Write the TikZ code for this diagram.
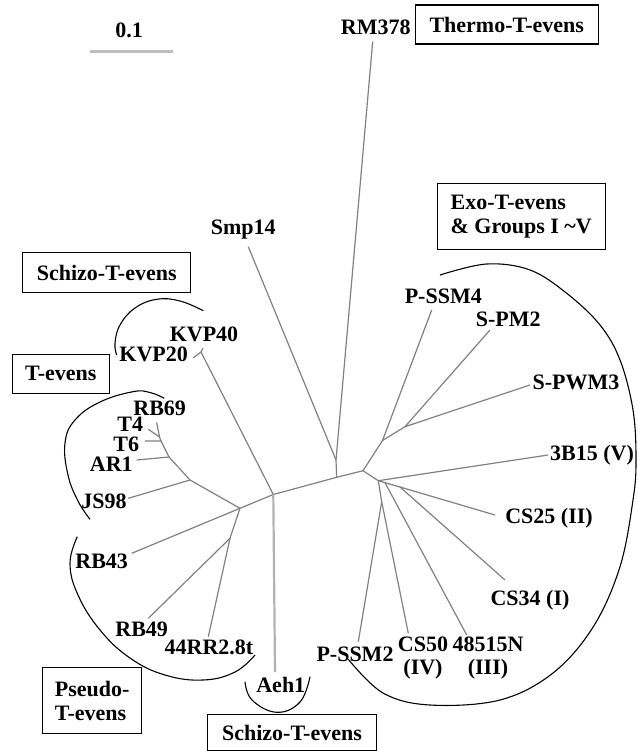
\documentclass[tikz,border=0pt]{standalone}
\usepackage{fontspec}
\setmainfont{Liberation Serif}
\begin{document}
\begin{tikzpicture}[x=1pt,y=-1pt,
  lbl/.style={font=\bfseries\fontsize{22}{23}\selectfont, inner sep=0pt},
  boxlbl/.style={draw=black, line width=1.1pt, font=\bfseries\fontsize{22}{24}\selectfont, inner sep=0pt, align=center},
  br/.style={draw=black!50, line width=1.2pt},
  arcline/.style={draw=black, line width=1.1pt}]
\useasboundingbox (0,0) rectangle (637,751);
% scale bar
\node[lbl] (scl) at (129,30) {0.1};
\coordinate (sb1) at (90,51.7); \coordinate (sb2) at (173.3,51.7);
\draw[black!25, line width=2.8pt] (sb1) -- (sb2);
% tree coordinates
\coordinate (A) at (273.3,494.5);
\coordinate (I) at (240,508.3);
\coordinate (B) at (336.7,477.3);
\coordinate (N) at (336,460);
\coordinate (C) at (363,470.7);
\coordinate (D) at (382.5,440.5);
\coordinate (E) at (405,426.7);
\coordinate (F) at (378.3,480.7);
\coordinate (H1) at (385,482.7);
\coordinate (H2) at (400,487);
\coordinate (G) at (381.7,501.7);
\coordinate (P) at (201,352);
\coordinate (K) at (190,480);
\coordinate (L) at (169,457);
\coordinate (M) at (161,441);
\coordinate (Q) at (159.5,437);
\coordinate (J) at (230,538.3);
% tips
\coordinate (tRM) at (372.7,41.7);
\coordinate (tSmp) at (248.3,246.7);
\coordinate (tKVP40) at (203,348);
\coordinate (tKVP20) at (193,358);
\coordinate (tRB69) at (156.7,422.7);
\coordinate (tT4) at (148.3,429.3);
\coordinate (tT6) at (145,441);
\coordinate (tAR1) at (136.7,460);
\coordinate (tJS98) at (128.3,498.3);
\coordinate (tRB43) at (131.7,553.3);
\coordinate (tRB49) at (148.3,618.3);
\coordinate (t44) at (208.3,636.7);
\coordinate (tAeh) at (275,672);
\coordinate (tPSSM4) at (431.7,310);
\coordinate (tSPM2) at (490,330);
\coordinate (tSPWM3) at (530,385);
\coordinate (t3B15) at (548,455);
\coordinate (tCS25) at (495,515);
\coordinate (tCS34) at (505,580);
\coordinate (t485) at (466.7,635);
\coordinate (tCS50) at (408.3,633.3);
\coordinate (tPSSM2) at (358.3,641.7);
% branches
\draw[br] (I) -- (A) -- (B) -- (C);
\draw[br] (B) -- (N) -- (tRM);
\draw[br] (N) -- (tSmp);
\draw[br] (A) -- (P) -- (tKVP40);
\draw[br] (P) -- (tKVP20);
\draw[br] (C) -- (D) -- (tPSSM4);
\draw[br] (D) -- (E) -- (tSPM2);
\draw[br] (E) -- (tSPWM3);
\draw[br] (C) -- (F) -- (t3B15);
\draw[br] (F) -- (H1) -- (H2) -- (tCS25);
\draw[br] (H1) -- (t485);
\draw[br] (H2) -- (tCS34);
\draw[br] (F) -- (G) -- (tPSSM2);
\draw[br] (G) -- (tCS50);
\draw[br] (I) -- (K) -- (tJS98);
\draw[br] (K) -- (L) -- (tAR1);
\draw[br] (L) -- (M) -- (tT6);
\draw[br] (M) -- (Q) -- (tRB69);
\draw[br] (Q) -- (tT4);
\draw[br] (I) -- (tRB43);
\draw[br] (I) -- (J) -- (t44);
\draw[br] (J) -- (tRB49);
\draw[draw=black!30, line width=2.2pt] (A) -- (tAeh);
% labels
\node[lbl] (lRM) at (375.8,27) {RM378};
\node[lbl] (lSmp) at (243.3,230) {Smp14};
\node[lbl] (lKVP40) at (204,334.7) {KVP40};
\node[lbl] (lKVP20) at (153.7,354) {KVP20};
\node[lbl] (lRB69) at (159.7,408) {RB69};
\node[lbl] (lT4) at (130.3,424.3) {T4};
\node[lbl] (lT6) at (126.3,444.3) {T6};
\node[lbl] (lAR1) at (111.3,464.5) {AR1};
\node[lbl] (lJS98) at (104,501) {JS98};
\node[lbl] (lRB43) at (101.7,561.7) {RB43};
\node[lbl] (lRB49) at (141.7,629.5) {RB49};
\node[lbl] (l44) at (209,647) {44RR2.8t};
\node[lbl] (lAeh) at (280.8,685) {Aeh1};
\node[lbl] (lPSSM4) at (443.3,296.7) {P-SSM4};
\node[lbl] (lSPM2) at (508.3,319) {S-PM2};
\node[lbl] (lSPWM3) at (576,382.5) {S-PWM3};
\node[lbl] (l3B15) at (592,455) {3B15 (V)};
\node[lbl] (lCS25) at (549,518) {CS25 (II)};
\node[lbl] (lCS34) at (530,600) {CS34 (I)};
\node[lbl] (lPSSM2) at (355,654) {P-SSM2};
\node[lbl, align=center] (lCS50) at (423,658) {CS50\\(IV)};
\node[lbl, align=center] (l485) at (488,658) {48515N\\(III)};
% boxes
\node[boxlbl, minimum width=183pt, minimum height=39pt] (bThermo) at (506.7,24.5) {Thermo-T-evens};
\node[boxlbl, align=left, minimum width=168pt, minimum height=66pt] (bExo) at (521.2,216.3) {Exo-T-evens\\\& Groups I \char`~V};
\node[boxlbl, minimum width=168pt, minimum height=39.6pt] (bSchizo1) at (106.7,272.5) {Schizo-T-evens};
\node[boxlbl, minimum width=97pt, minimum height=39pt] (bTeven) at (60.8,373.8) {T-evens};
\node[boxlbl, align=left, minimum width=99pt, minimum height=66pt] (bPseudo) at (92.2,700.8) {Pseudo-\\T-evens};
\node[boxlbl, minimum width=169.4pt, minimum height=36pt] (bSchizo2) at (292,732.5) {\raisebox{-2pt}{Schizo-T-evens}};
% arcs
\draw[arcline] plot[smooth, tension=0.7] coordinates {(203.3,310.7) (180,301) (156.7,299.3) (135,308) (120,325) (115,343.3) (116.7,355)};
\draw[arcline] plot[smooth, tension=0.7] coordinates {(164.3,398.3) (150,392.5) (133,391.7) (100,402) (75,420) (65,443) (68,475) (78,501) (90,519.3)};
\draw[arcline] plot[smooth, tension=0.7] coordinates {(77.3,536.7) (70,563.3) (78,595) (100,630) (130,658) (165,675) (203.3,680) (235,672) (255,655)};
\draw[arcline] plot[smooth, tension=0.7] coordinates {(245,681.7) (252,700) (276.7,712.3) (300,702) (310,676.7)};
\draw[arcline] plot[smooth, tension=0.6] coordinates {(440,275) (486.7,264) (530,270) (566.7,293.3) (600,325) (620,360) (633,410) (636,460) (633,500) (620,566.7) (593.3,626.7) (553,673) (500,700) (430,705) (383,693) (348.3,659.3)};
\end{tikzpicture}
\end{document}
